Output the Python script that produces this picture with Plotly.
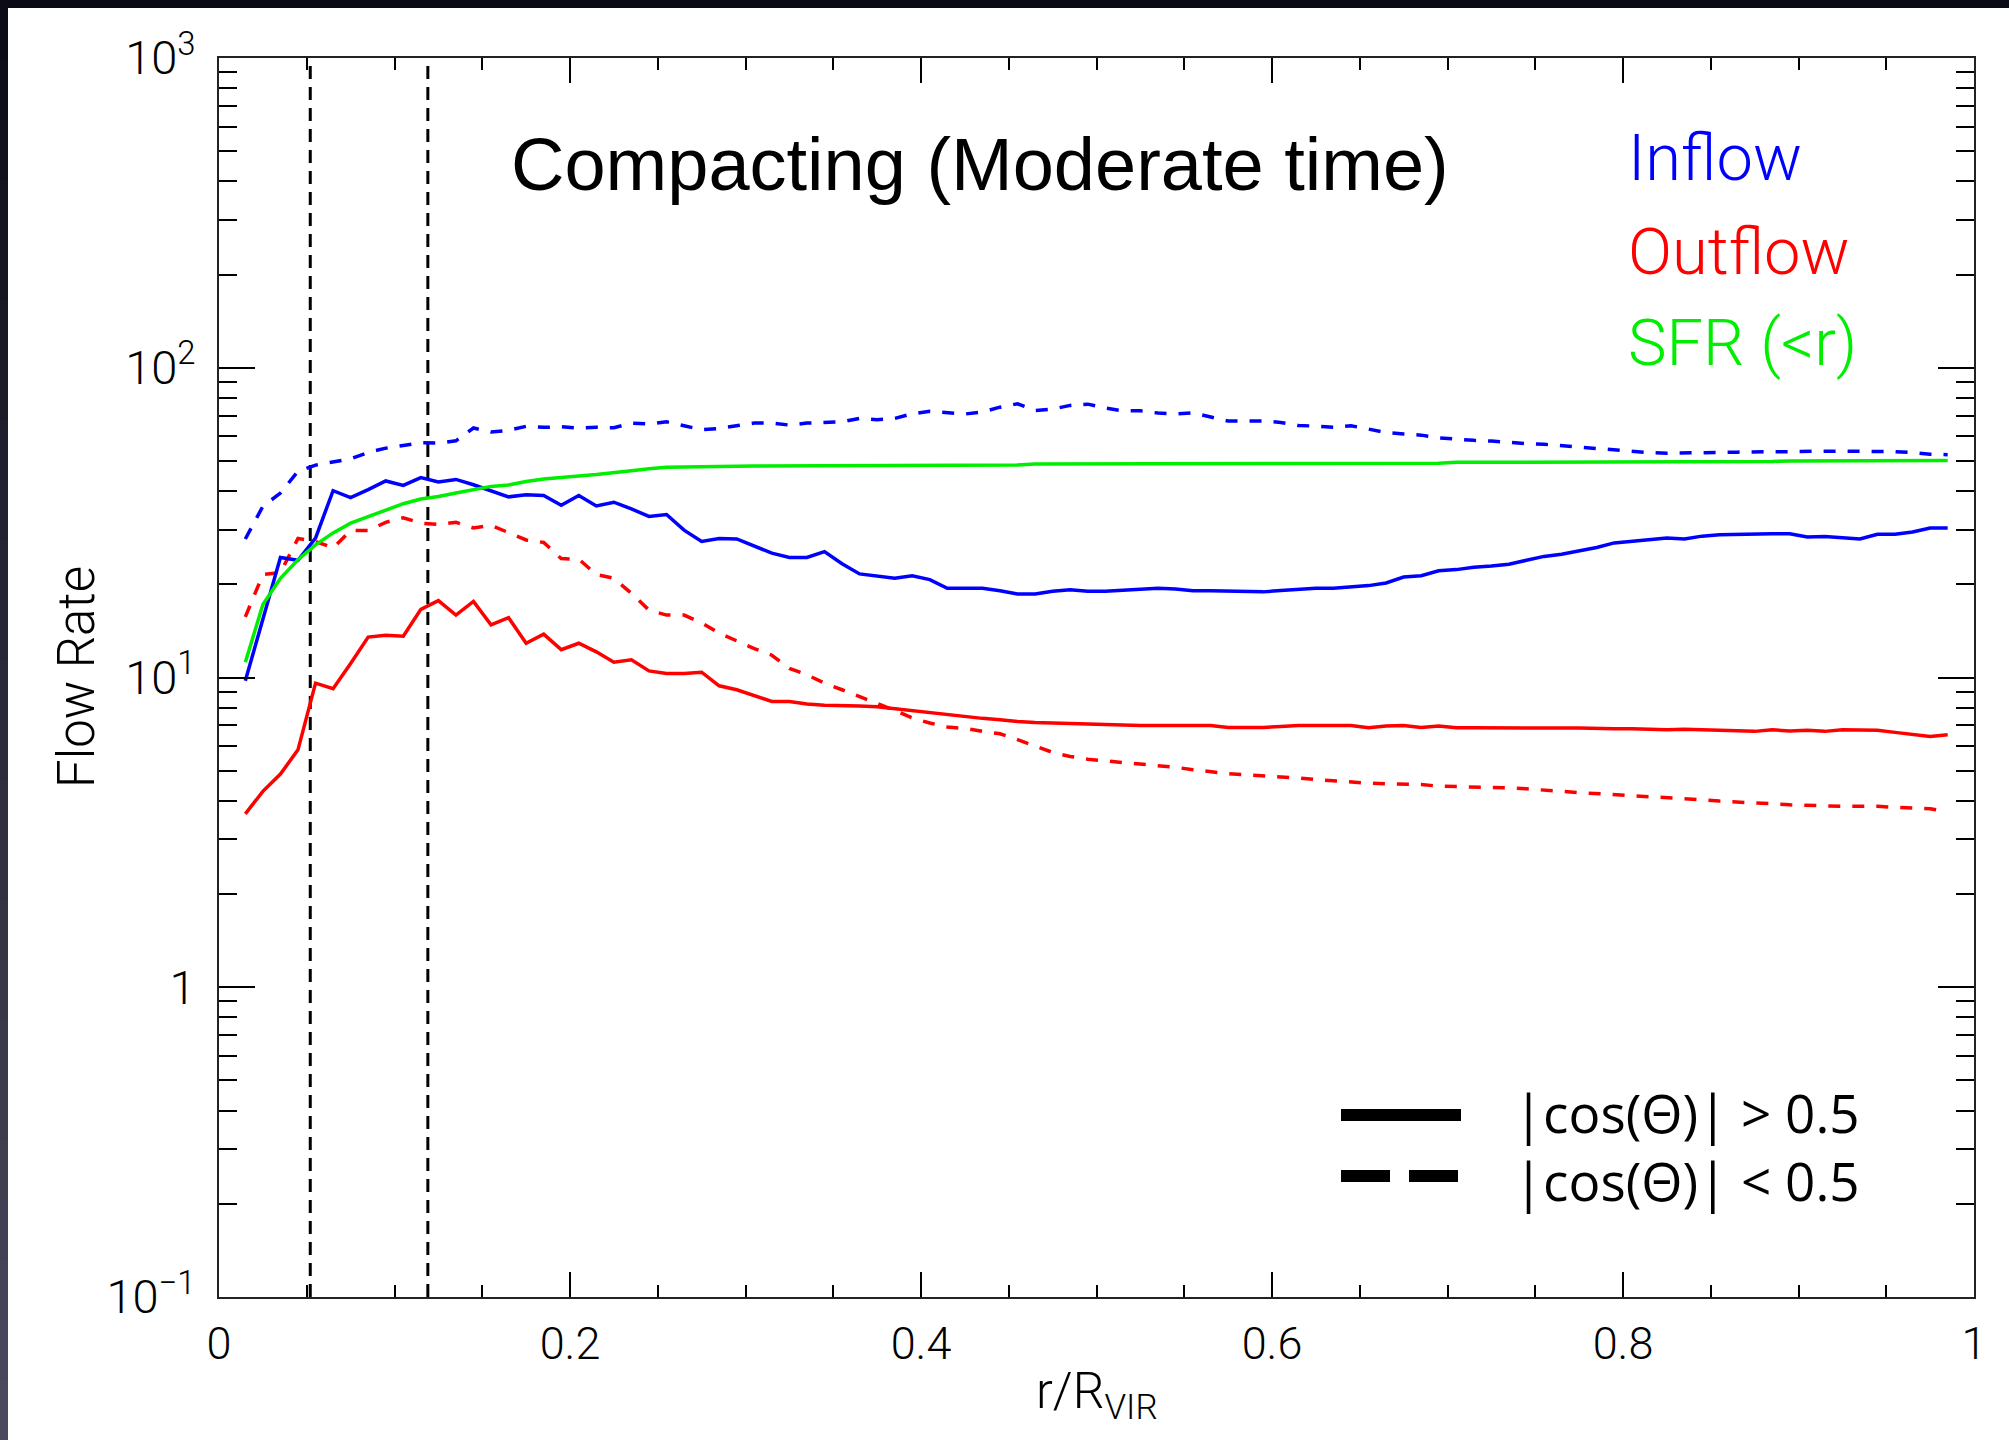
import plotly.graph_objects as go

# ---------------- data ----------------
r = [round(0.015 + 0.01 * i, 3) for i in range(98)]

inflow_cos_gt = [9.76, 15.6, 24.4, 23.9, 28.2, 40.1, 38.1, 40.4, 43.1, 41.7,
                 44.2, 42.8, 43.6, 41.9, 40.1, 38.3, 38.9, 38.7, 36.0, 38.7,
                 35.8, 36.8, 35.0, 33.1, 33.6, 29.9, 27.5, 28.1, 28.0,
                 26.5, 25.2, 24.4, 24.4, 25.5, 23.3, 21.6, 21.3, 20.9, 21.3,
                 20.7, 19.4, 19.4, 19.4, 19.05, 18.6, 18.6, 19.0, 19.2, 19.0,
                 19.0, 19.1, 19.3, 19.4, 19.3, 19.05, 19.05, 19.0, 19.0,
                 18.9, 19.1, 19.3, 19.4, 19.4, 19.6, 19.8, 20.2, 21.1, 21.3,
                 22.1, 22.3, 22.7, 22.9, 23.2, 23.9, 24.6, 25.0, 25.6, 26.3,
                 27.2, 27.5, 27.9, 28.2, 28.0, 28.6, 28.9, 29.0, 29.0, 29.1,
                 29.1, 28.4, 28.5, 28.2, 28.0, 29.0, 29.0, 29.5, 30.4, 30.4]

inflow_cos_lt = [28.0, 35.7, 39.4, 46.3, 48.5, 49.8, 50.8, 53.3, 55.0, 56.1,
                 57.3, 57.1, 58.1, 63.9, 62.0, 62.8, 64.7, 64.2, 64.5, 63.9,
                 64.3, 64.0, 66.3, 65.8, 66.9, 65.0, 63.1, 63.7, 64.8,
                 66.3, 66.3, 65.3, 66.3, 66.6, 66.9, 68.6, 67.9, 68.6, 71.0,
                 72.3, 71.4, 70.9, 72.0, 74.6, 76.5, 72.8, 73.5, 75.6, 76.3,
                 74.1, 72.6, 72.6, 71.4, 70.9, 71.5, 69.3, 67.3, 67.3,
                 67.3, 66.6, 65.1, 64.8, 64.3, 65.0, 63.5, 61.8, 61.1, 60.6,
                 59.4, 58.7, 58.3, 58.0, 57.3, 56.9, 56.6, 56.0, 55.4, 54.6,
                 54.0, 53.6, 53.2, 53.0, 53.0, 53.0, 53.3, 53.4, 53.6, 53.6,
                 53.6, 53.8, 53.8, 53.8, 53.8, 53.8, 53.6, 53.2, 52.6, 52.4]

outflow_cos_gt = [3.63, 4.29, 4.88, 5.84, 9.59, 9.20, 11.1, 13.5, 13.7, 13.6,
                  16.6, 17.7, 15.9, 17.6, 14.8, 15.6, 12.9, 13.8, 12.3, 12.9,
                  12.1, 11.2, 11.4, 10.5, 10.3, 10.3, 10.4, 9.4, 9.13,
                  8.73, 8.37, 8.37, 8.21, 8.13, 8.13, 8.09, 8.05, 7.93, 7.83,
                  7.71, 7.56, 7.45, 7.38, 7.31, 7.21, 7.16, 7.13, 7.09, 7.05,
                  7.04, 7.01, 7.0, 7.0, 7.0, 7.0, 7.0, 6.9, 6.9,
                  6.90, 6.95, 7.00, 7.00, 7.00, 7.00, 6.88, 6.97, 7.00, 6.90,
                  6.97, 6.88, 6.88, 6.87, 6.88, 6.87, 6.87, 6.87, 6.87, 6.83,
                  6.83, 6.83, 6.81, 6.78, 6.81, 6.78, 6.75, 6.75, 6.70, 6.78,
                  6.72, 6.75, 6.70, 6.78, 6.75, 6.75, 6.65, 6.57, 6.45, 6.53]

outflow_cos_lt = [15.7, 21.5, 21.8, 28.1, 27.5, 26.2, 29.8, 29.8, 31.7, 32.8,
                  31.5, 31.2, 31.7, 30.4, 31.0, 29.4, 27.8, 27.3, 24.2, 24.1,
                  21.5, 20.9, 18.7, 16.5, 15.9, 15.9, 15.0, 13.9, 13.1,
                  12.4, 11.8, 10.7, 10.2, 9.59, 9.13, 8.69, 8.25, 7.83, 7.40,
                  7.13, 6.92, 6.85, 6.70, 6.58, 6.30, 5.99, 5.73, 5.56, 5.45,
                  5.38, 5.32, 5.26, 5.19, 5.13, 5.04, 4.96, 4.89, 4.85,
                  4.82, 4.77, 4.74, 4.68, 4.63, 4.61, 4.56, 4.54, 4.52, 4.51,
                  4.46, 4.45, 4.44, 4.42, 4.40, 4.37, 4.34, 4.29, 4.25, 4.22,
                  4.17, 4.15, 4.12, 4.08, 4.05, 4.03, 3.99, 3.97, 3.95, 3.91,
                  3.88, 3.86, 3.84, 3.84, 3.84, 3.84, 3.81, 3.78, 3.77, 3.68]

sfr_lt_r = [11.2, 17.2, 20.9, 24.0, 26.8, 29.3, 31.5, 33.1, 34.6, 36.4,
            37.7, 38.4, 39.4, 40.4, 41.4, 41.8, 42.9, 43.7, 44.3, 44.7,
            45.2, 45.7, 46.5, 47.2, 47.7, 47.8, 48.0, 48.1, 48.1,
            48.2, 48.2, 48.2, 48.2, 48.5, 48.5, 48.5, 48.5, 48.5, 48.5,
            48.5, 48.5, 48.5, 48.5, 48.5, 48.5, 48.9, 48.9, 48.9, 48.9,
            48.9, 48.9, 48.9, 48.9, 48.9, 48.9, 48.9, 48.9, 49.1,
            49.2, 49.2, 49.2, 49.2, 49.2, 49.2, 49.2, 49.2, 49.2, 49.2,
            49.2, 49.5, 49.5, 49.5, 49.5, 49.5, 49.5, 49.5, 49.5, 49.5,
            49.5, 49.5, 49.5, 49.5, 49.5, 49.5, 49.5, 49.8, 49.8, 49.8,
            50.0, 50.0, 50.0, 50.0, 50.0, 50.2, 50.2, 50.2, 50.2, 50.2]

vline_r = [0.052, 0.119]
y_range_vals = [0.1, 1000]

ytick_vals = [0.1, 1, 10, 100, 1000]
ytick_text = ["10<sup>\u22121</sup>", "1", "10<sup>1</sup>", "10<sup>2</sup>", "10<sup>3</sup>"]
xtick_vals = [0, 0.2, 0.4, 0.6, 0.8, 1]
xtick_text = ["0", "0.2", "0.4", "0.6", "0.8", "1"]

BLUE = "#0000ff"
RED = "#ff0000"
GREEN = "#00ee00"
LW = 3.5

fig = go.Figure()

for xv in vline_r:
    fig.add_trace(go.Scatter(x=[xv, xv], y=y_range_vals, mode="lines",
                             line=dict(color="black", width=3, dash="13px,8px"),
                             showlegend=False, hoverinfo="skip"))

fig.add_trace(go.Scatter(x=r, y=inflow_cos_lt, mode="lines",
                         line=dict(color=BLUE, width=LW, dash="12px,12px"), showlegend=False))
fig.add_trace(go.Scatter(x=r, y=outflow_cos_lt, mode="lines",
                         line=dict(color=RED, width=LW, dash="12px,12px"), showlegend=False))
fig.add_trace(go.Scatter(x=r, y=inflow_cos_gt, mode="lines",
                         line=dict(color=BLUE, width=LW), showlegend=False))
fig.add_trace(go.Scatter(x=r, y=outflow_cos_gt, mode="lines",
                         line=dict(color=RED, width=LW), showlegend=False))
fig.add_trace(go.Scatter(x=r, y=sfr_lt_r, mode="lines",
                         line=dict(color=GREEN, width=LW), showlegend=False))

XTICKFONT = dict(family="Roboto", size=45, color="black", weight=300)
YTICKFONT = dict(family="Roboto", size=47, color="black", weight=300)

fig.update_layout(
    width=2009, height=1440,
    margin=dict(l=219, r=35, t=58, b=143, autoexpand=False),
    paper_bgcolor="white", plot_bgcolor="white",
    showlegend=False,
    xaxis=dict(range=[0, 1], tickmode="array", tickvals=xtick_vals, ticktext=xtick_text,
               ticks="inside", ticklen=25, tickwidth=2, tickcolor="black",
               minor=dict(dtick=0.05, tick0=0, ticks="inside", ticklen=12, tickwidth=2, tickcolor="black"),
               showline=True, linecolor="#222", linewidth=2, mirror="ticks",
               showgrid=False, zeroline=False, tickfont=XTICKFONT, ticklabelstandoff=6),
    yaxis=dict(type="log", range=[-1, 3], tickmode="array", tickvals=ytick_vals, ticktext=ytick_text,
               ticks="inside", ticklen=36, tickwidth=2, tickcolor="black",
               minor=dict(dtick="D1", ticks="inside", ticklen=18, tickwidth=2, tickcolor="black"),
               showline=True, linecolor="#222", linewidth=2, mirror="ticks",
               showgrid=False, zeroline=False, tickfont=YTICKFONT, ticklabelstandoff=12),
)

def px_x(X):
    return (X - 219) / 1755.0

def px_y(Y):
    return 1 - (Y - 58) / 1239.0

annotations = [
    dict(text="Compacting (Moderate time)", x=px_x(980), y=px_y(164), xanchor="center", yanchor="middle",
         font=dict(family="Liberation Sans", size=74, color="black")),
    dict(text="Inflow", x=px_x(1626), y=px_y(158), xanchor="left", yanchor="middle",
         font=dict(family="Roboto", size=65, color=BLUE, weight=300)),
    dict(text="Outflow", x=px_x(1626), y=px_y(252), xanchor="left", yanchor="middle",
         font=dict(family="Roboto", size=65, color=RED, weight=300)),
    dict(text="SFR (<r)", x=px_x(1626), y=px_y(343), xanchor="left", yanchor="middle",
         font=dict(family="Roboto", size=65, color=GREEN, weight=300)),
    dict(text="|cos(\u0398)| > 0.5", x=px_x(1512), y=px_y(1112), xanchor="left", yanchor="middle",
         font=dict(family="Open Sans", size=53, color="black")),
    dict(text="|cos(\u0398)| < 0.5", x=px_x(1512), y=px_y(1180), xanchor="left", yanchor="middle",
         font=dict(family="Open Sans", size=53, color="black")),
    dict(text="r/R<sub>VIR</sub>", x=0.5, y=px_y(1395), xanchor="center", yanchor="middle",
         font=dict(family="Roboto", size=50, color="black", weight=300)),
    dict(text="Flow Rate", x=px_x(76), y=px_y(677), xanchor="center", yanchor="middle", textangle=-90,
         font=dict(family="Roboto", size=51, color="black", weight=300)),
]
for a in annotations:
    a.update(xref="paper", yref="paper", showarrow=False)
fig.update_layout(annotations=annotations)

shapes = [
    dict(type="line", x0=px_x(1341), x1=px_x(1461), y0=px_y(1115), y1=px_y(1115),
         line=dict(color="black", width=12)),
    dict(type="line", x0=px_x(1341), x1=px_x(1458), y0=px_y(1176), y1=px_y(1176),
         line=dict(color="black", width=12, dash="49px,19px")),
    dict(type="rect", x0=px_x(0), x1=px_x(2009), y0=px_y(0), y1=px_y(8),
         fillcolor="#0b0b16", line=dict(width=0), layer="above"),
]
# left dark strip with vertical gradient
n = 24
for i in range(n):
    t = i / (n - 1)
    c0 = (12, 12, 24)
    c1 = (74, 74, 92)
    col = "rgb(%d,%d,%d)" % tuple(int(c0[k] + (c1[k] - c0[k]) * t) for k in range(3))
    shapes.append(dict(type="rect", x0=px_x(0), x1=px_x(8),
                       y0=px_y(1440 * i / n), y1=px_y(1440 * (i + 1) / n + 1),
                       fillcolor=col, line=dict(width=0), layer="above"))
for s in shapes:
    s.update(xref="paper", yref="paper")
fig.update_layout(shapes=shapes)

fig.write_html("out.html")
